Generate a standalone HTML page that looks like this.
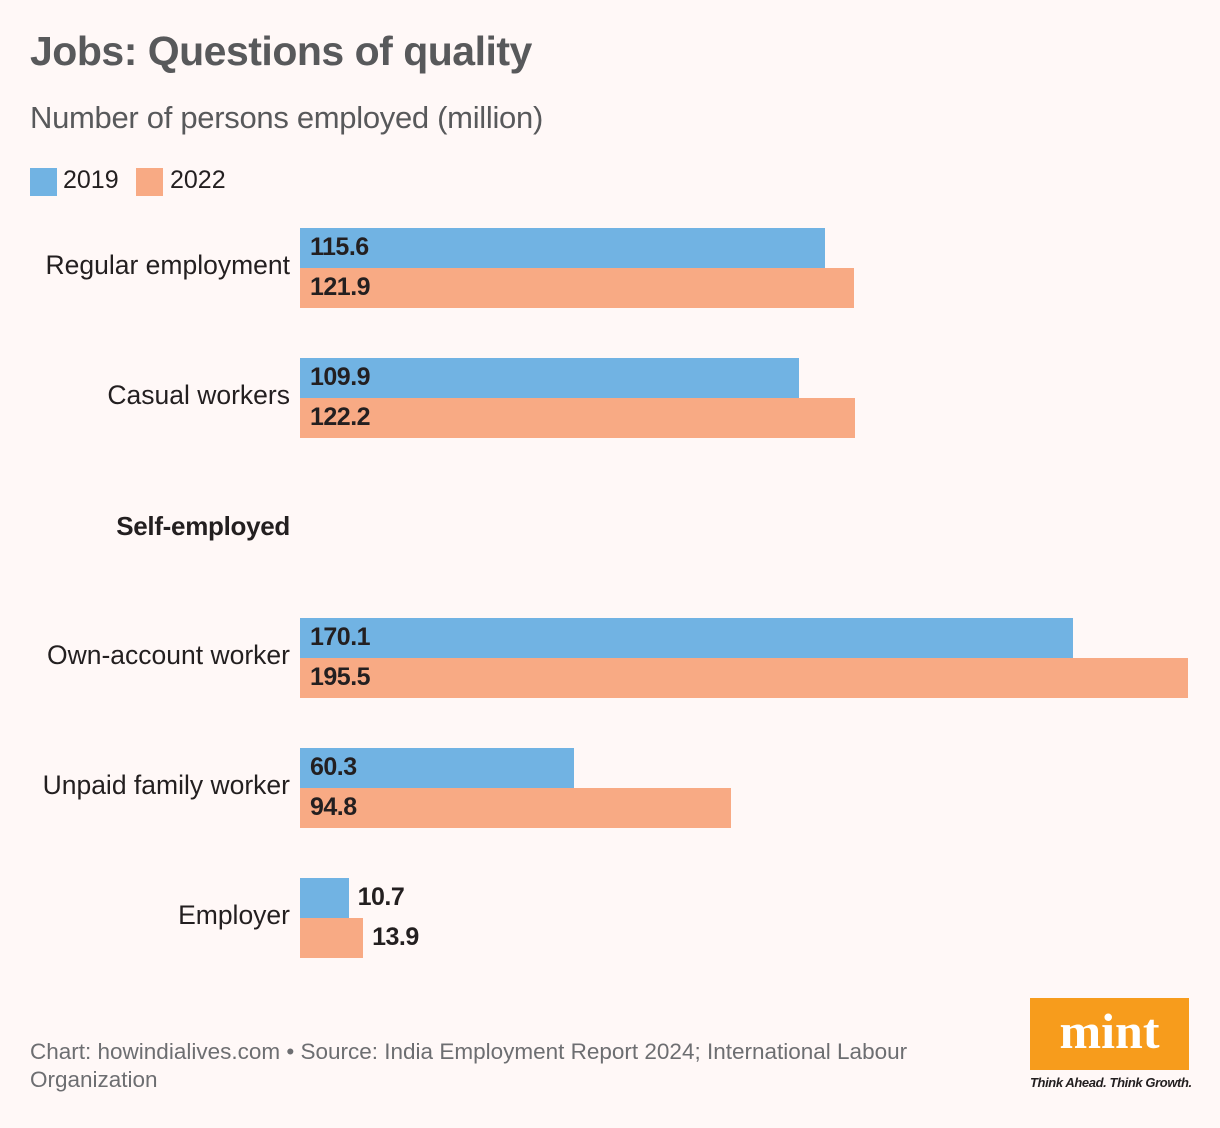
<!DOCTYPE html>
<html><head><meta charset="utf-8">
<style>
body{margin:0;background:#fff8f7;font-family:"Liberation Sans",sans-serif;}
#root{position:relative;width:1220px;height:1128px;overflow:hidden;background:#fff8f7;}
.t{position:absolute;white-space:nowrap;}
</style></head><body>
<div id="root">
<div class="t" style="left:30px;top:28px;font-size:41px;font-weight:bold;color:#58595b;letter-spacing:-0.5px;">Jobs: Questions of quality</div>
<div class="t" style="left:30px;top:100px;font-size:31px;color:#58595b;letter-spacing:-0.3px;">Number of persons employed (million)</div>
<div style="position:absolute;left:30px;top:168px;width:27px;height:28px;background:#71b3e3;"></div>
<div class="t" style="left:63px;top:166px;font-size:25px;color:#231f20;">2019</div>
<div style="position:absolute;left:136px;top:168px;width:27px;height:28px;background:#f8aa84;"></div>
<div class="t" style="left:170px;top:166px;font-size:25px;color:#231f20;">2022</div>
<div id="chart"></div>
<div class="t" style="left:30px;top:1038px;font-size:22.5px;color:#6d6e71;line-height:28px;">Chart: howindialives.com • Source: India Employment Report 2024; International Labour<br>Organization</div>
<div style="position:absolute;left:1030px;top:998px;width:159px;height:72px;background:#f79c1c;color:#fff;font-family:'Liberation Serif',serif;font-weight:bold;font-size:50px;text-align:center;line-height:66px;">mint</div>
<div class="t" style="left:1030px;top:1075px;font-size:13px;font-style:italic;font-weight:bold;color:#231f20;letter-spacing:-0.4px;">Think Ahead. Think Growth.</div>
</div>
<script>
const categories=["Regular employment","Casual workers","Self-employed","Own-account worker","Unpaid family worker","Employer"];
const values2019=[115.6,109.9,null,170.1,60.3,10.7];
const values2022=[121.9,122.2,null,195.5,94.8,13.9];
const chart=document.getElementById('chart');
const x0=300,pxPerUnit=888/195.5;
function xScale(v){return v*pxPerUnit;}
function rowTop(i){return 228+i*130;}
function mk(tag,css,txt){const e=document.createElement(tag);e.style.cssText=css;if(txt!==undefined)e.textContent=txt;chart.appendChild(e);return e;}
categories.forEach((c,i)=>{
  const top=rowTop(i);
  if(values2019[i]===null){
    const h=mk('div',`position:absolute;right:930px;top:${top+23}px;font-size:26px;font-weight:bold;color:#231f20;white-space:nowrap;letter-spacing:-0.3px;`,c);
    
    
    return;
  }
  const l=mk('div',`position:absolute;right:930px;top:${top+22}px;font-size:26.5px;color:#231f20;white-space:nowrap;`,c);
  
  
  [[values2019,'#71b3e3',0,'2019'],[values2022,'#f8aa84',40,'2022']].forEach(([arr,col,off,yr])=>{
    const w=xScale(arr[i]);
    const b=mk('div',`position:absolute;left:${x0}px;top:${top+off}px;width:${w}px;height:40px;background:${col};`);
    
    
    const inside=w>100;
    const t=mk('div',`position:absolute;left:${inside?x0+10:x0+w+9}px;top:${top+off+5}px;font-size:25px;font-weight:bold;color:#231f20;letter-spacing:-0.5px;white-space:nowrap;`,arr[i].toFixed(1));
    
    
  });
});
</script>
</body></html>
